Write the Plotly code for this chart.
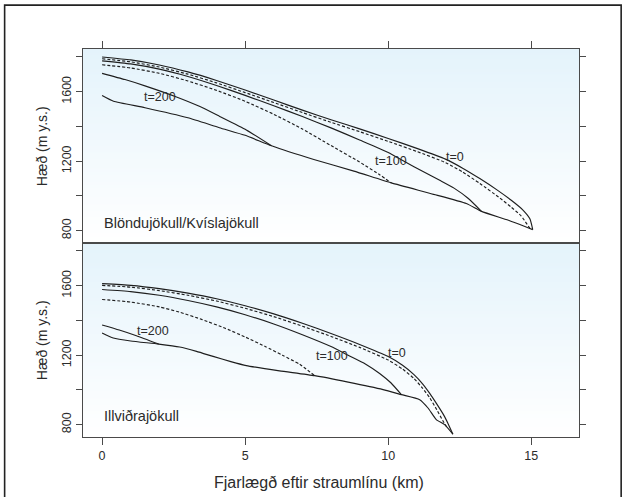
import plotly.graph_objects as go

# ---------------- data: Blöndujökull/Kvíslajökull (upper panel) ----------------
bl_x_t0 = [0, 1, 2, 3, 4, 5, 6, 7, 8, 9, 10, 11, 12, 12.6, 13.2, 13.8, 14.3, 14.7, 14.95, 15.05]
bl_y_t0 = [1800, 1783, 1754, 1714, 1665, 1610, 1552, 1494, 1439, 1386, 1331, 1274, 1212, 1160, 1100, 1035, 975, 920, 868, 806]

bl_x_t50 = [0, 1, 2, 3, 4, 5, 6, 7, 8, 9, 10, 11, 12, 12.6, 13.2, 13.9, 14.3, 14.65, 14.95]
bl_y_t50 = [1790, 1772, 1742, 1701, 1651, 1595, 1538, 1480, 1424, 1370, 1314, 1256, 1192, 1138, 1072, 988, 935, 884, 813]

bl_x_t100 = [0, 1, 2, 3, 4, 5, 6, 7, 8, 9, 10, 10.6, 11.2, 11.8, 12.3, 12.8, 13.26]
bl_y_t100 = [1778, 1760, 1730, 1688, 1636, 1579, 1519, 1457, 1392, 1322, 1250, 1195, 1142, 1090, 1045, 985, 911]

bl_x_t150 = [0, 1, 2, 3, 4, 5, 6, 7, 8, 9, 9.7, 10.11]
bl_y_t150 = [1755, 1737, 1706, 1662, 1608, 1545, 1470, 1385, 1290, 1195, 1122, 1075]

bl_x_t200 = [0, 0.8, 1.55, 2.6, 3.4, 4.11, 5.04, 5.92]
bl_y_t200 = [1706, 1670, 1631, 1570, 1516, 1458, 1380, 1289]

bl_x_bed = [0, 0.4, 1.5, 3.0, 4.1, 5.0, 5.92, 7.4, 8.8, 10.11, 11.5, 12.73, 13.26, 14.2, 15.05]
bl_y_bed = [1578, 1545, 1508, 1450, 1393, 1349, 1289, 1210, 1143, 1075, 1013, 956, 911, 860, 806]

# ---------------- data: Illviðrajökull (lower panel) ----------------
il_x_t0 = [0, 1, 2, 3, 4, 5, 6, 7, 8, 9, 10, 10.5, 10.9, 11.2, 11.45, 11.7, 11.95, 12.1, 12.26]
il_y_t0 = [1612, 1602, 1583, 1557, 1525, 1485, 1438, 1384, 1325, 1262, 1192, 1142, 1088, 1035, 980, 918, 852, 803, 745]

il_x_t50 = [0, 1, 2, 3, 4, 5, 6, 7, 8, 9, 10, 10.5, 10.9, 11.2, 11.45, 11.7, 11.9, 12.05]
il_y_t50 = [1602, 1592, 1572, 1545, 1512, 1470, 1422, 1367, 1308, 1245, 1172, 1120, 1066, 1010, 955, 885, 825, 785]

il_x_t100 = [0, 1, 2, 3, 4, 5, 6, 7, 8, 8.6, 9.2, 9.7, 10.1, 10.46]
il_y_t100 = [1578, 1566, 1545, 1515, 1478, 1433, 1380, 1318, 1250, 1200, 1150, 1095, 1040, 973]

il_x_t150 = [0, 1, 2, 2.7, 3.5, 4.3, 5, 5.7, 6.3, 6.9, 7.43]
il_y_t150 = [1521, 1506, 1478, 1448, 1405, 1355, 1305, 1250, 1200, 1148, 1082]

il_x_t200 = [0, 0.6, 1.2, 1.98]
il_y_t200 = [1374, 1345, 1312, 1264]

il_x_bed = [0, 0.39, 1.0, 1.98, 2.71, 3.3, 3.88, 4.5, 5.04, 6.2, 7.43, 8.6, 9.82, 10.46, 11.1, 11.39, 11.68, 11.97, 12.26]
il_y_bed = [1328, 1299, 1282, 1264, 1247, 1222, 1193, 1163, 1140, 1110, 1082, 1045, 1002, 973, 944, 896, 829, 800, 745]

# curve labels: (text, x, y)
bl_labels = [("t=200", 2.02, 1569), ("t=100", 10.09, 1203), ("t=0", 12.32, 1222)]
il_labels = [("t=200", 1.77, 1337), ("t=100", 8.05, 1193), ("t=0", 10.31, 1210)]

panel_names = ["Blöndujökull/Kvíslajökull", "Illviðrajökull"]
x_ticks = [0, 5, 10, 15]
y_ticks = [800, 1000, 1200, 1400, 1600, 1800]
y_ticktext = ["800", "", "1200", "", "1600", ""]

# ---------------- styling ----------------
FONT = "Liberation Sans, Arial, Helvetica, sans-serif"
TXT = "#2b2b2b"
LINE = "#1e1e1e"
AX = "#4a4a4a"
X_RANGE = [-0.667, 16.667]
Y_RANGE = [729, 1846]

fig = go.Figure()


def add_profiles(series, xa, ya):
    for xs, ys, dashed in series:
        fig.add_trace(go.Scatter(
            x=xs, y=ys, mode="lines", xaxis=xa, yaxis=ya,
            line=dict(color=LINE, width=1.15, dash="3px,2px" if dashed else "solid",
                      shape="spline", smoothing=0.5),
            hoverinfo="skip", showlegend=False))


add_profiles([
    (bl_x_bed, bl_y_bed, False),
    (bl_x_t200, bl_y_t200, False),
    (bl_x_t150, bl_y_t150, True),
    (bl_x_t100, bl_y_t100, False),
    (bl_x_t50, bl_y_t50, True),
    (bl_x_t0, bl_y_t0, False),
], "x2", "y2")

add_profiles([
    (il_x_bed, il_y_bed, False),
    (il_x_t200, il_y_t200, False),
    (il_x_t150, il_y_t150, True),
    (il_x_t100, il_y_t100, False),
    (il_x_t50, il_y_t50, True),
    (il_x_t0, il_y_t0, False),
], "x", "y")

# light-blue to white vertical gradient behind each panel
shapes = []
N = 60
top_rgb = (228, 243, 251)
bot_rgb = (255, 255, 255)
for yref in ("y domain", "y2 domain"):
    xref = "x domain" if yref == "y domain" else "x2 domain"
    for i in range(N):
        f = (i + 0.5) / N
        c = tuple(round(bot_rgb[k] + (top_rgb[k] - bot_rgb[k]) * f) for k in range(3))
        shapes.append(dict(type="rect", xref=xref, yref=yref, x0=0, x1=1,
                           y0=i / N, y1=min(1, (i + 1) / N + 0.004),
                           fillcolor="rgb(%d,%d,%d)" % c, line=dict(width=0),
                           layer="below"))

# outer frame
shapes.append(dict(type="rect", xref="paper", yref="paper",
                   x0=-0.158, x1=1.085, y0=-0.16, y1=1.113,
                   line=dict(color="#222", width=1.6), fillcolor="rgba(0,0,0,0)",
                   layer="above"))

annotations = []
for (txt, xv, yv) in bl_labels:
    annotations.append(dict(text=txt, x=xv, y=yv, xref="x2", yref="y2", showarrow=False,
                            font=dict(family=FONT, size=12.5, color=TXT)))
for (txt, xv, yv) in il_labels:
    annotations.append(dict(text=txt, x=xv, y=yv, xref="x", yref="y", showarrow=False,
                            font=dict(family=FONT, size=12.5, color=TXT)))

annotations.append(dict(text=panel_names[0], x=0.01, y=846, xref="x2", yref="y2",
                        xanchor="left", yanchor="middle", showarrow=False,
                        font=dict(family=FONT, size=14.5, color=TXT)))
annotations.append(dict(text=panel_names[1], x=0.01, y=848, xref="x", yref="y",
                        xanchor="left", yanchor="middle", showarrow=False,
                        font=dict(family=FONT, size=14.5, color=TXT)))

for yc in (0.75, 0.25):
    annotations.append(dict(text="Hæð (m y.s.)", x=-0.0823, y=yc, xref="paper", yref="paper",
                            textangle=-90, showarrow=False, xanchor="center", yanchor="middle",
                            font=dict(family=FONT, size=14, color=TXT)))

annotations.append(dict(text="Fjarlægð eftir straumlínu (km)", x=0.4755, y=-0.1178,
                        xref="paper", yref="paper", showarrow=False,
                        xanchor="center", yanchor="middle",
                        font=dict(family=FONT, size=16, color=TXT)))

xaxis_common = dict(range=X_RANGE, tickvals=x_ticks, ticks="outside", ticklen=7,
                    tickcolor=AX, tickwidth=1, showline=True, linecolor=AX, linewidth=1.3,
                    mirror=True, showgrid=False, zeroline=False,
                    tickfont=dict(family=FONT, size=12.5, color=TXT))
yaxis_common = dict(range=Y_RANGE, tickvals=y_ticks, ticktext=y_ticktext, ticks="outside",
                    ticklen=6, tickcolor=AX, tickwidth=1, showline=True, linecolor=AX,
                    linewidth=1.3, mirror="ticks", showgrid=False, zeroline=False,
                    tickangle=-90, tickfont=dict(family=FONT, size=12.5, color=TXT))

fig.update_layout(
    width=623, height=497,
    margin=dict(l=83, r=44, t=49, b=60),
    paper_bgcolor="white", plot_bgcolor="white",
    showlegend=False,
    xaxis=dict(domain=[0, 1], anchor="y", side="bottom", **xaxis_common),
    xaxis2=dict(domain=[0, 1], anchor="y2", side="top", matches="x",
                showticklabels=False, **xaxis_common),
    yaxis=dict(domain=[0, 0.5], anchor="x", **yaxis_common),
    yaxis2=dict(domain=[0.5, 1], anchor="x2", **yaxis_common),
    shapes=shapes,
    annotations=annotations,
)

fig.write_html("out.html")
